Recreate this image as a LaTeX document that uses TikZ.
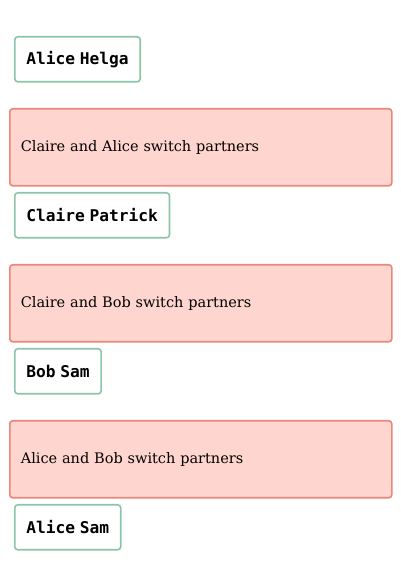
\documentclass[tikz,border=0pt]{standalone}
\usepackage{fontspec}
\setmainfont{DejaVu Serif}
\newfontfamily\pairfont[WordSpace=0.5]{DejaVu Sans Mono}
\usepackage{tikz}

\definecolor{pairgreen}{HTML}{8CC4A8}
\definecolor{swapred}{HTML}{E8877A}
\definecolor{swapfill}{HTML}{FFD5CF}

\tikzset{
  pairbox/.style={draw=pairgreen, line width=1.6pt, rounded corners=3pt,
    anchor=north west, minimum height=45pt, inner xsep=11.5pt,
    font=\pairfont\bfseries\fontsize{16.2}{19}\selectfont},
  swapbox/.style={draw=swapred, fill=swapfill, line width=1.6pt, rounded corners=3pt,
    anchor=north west, minimum height=77pt, text width=360pt, align=left,
    inner xsep=11pt, font=\fontsize{14.5}{17}\selectfont}
}

\begin{document}
\begin{tikzpicture}[x=1pt,y=1pt]
\useasboundingbox (0,0) rectangle (400,563);
\node[pairbox] (pair1) at (14,527) {Alice Helga};
\node[swapbox] (swap1) at (9,455) {Claire and Alice switch partners};
\node[pairbox] (pair2) at (14,371) {Claire Patrick};
\node[swapbox] (swap2) at (9,299) {Claire and Bob switch partners};
\node[pairbox] (pair3) at (14,215) {Bob Sam};
\node[swapbox] (swap3) at (9,143) {Alice and Bob switch partners};
\node[pairbox] (pair4) at (14,59) {Alice Sam};
\end{tikzpicture}
\end{document}
